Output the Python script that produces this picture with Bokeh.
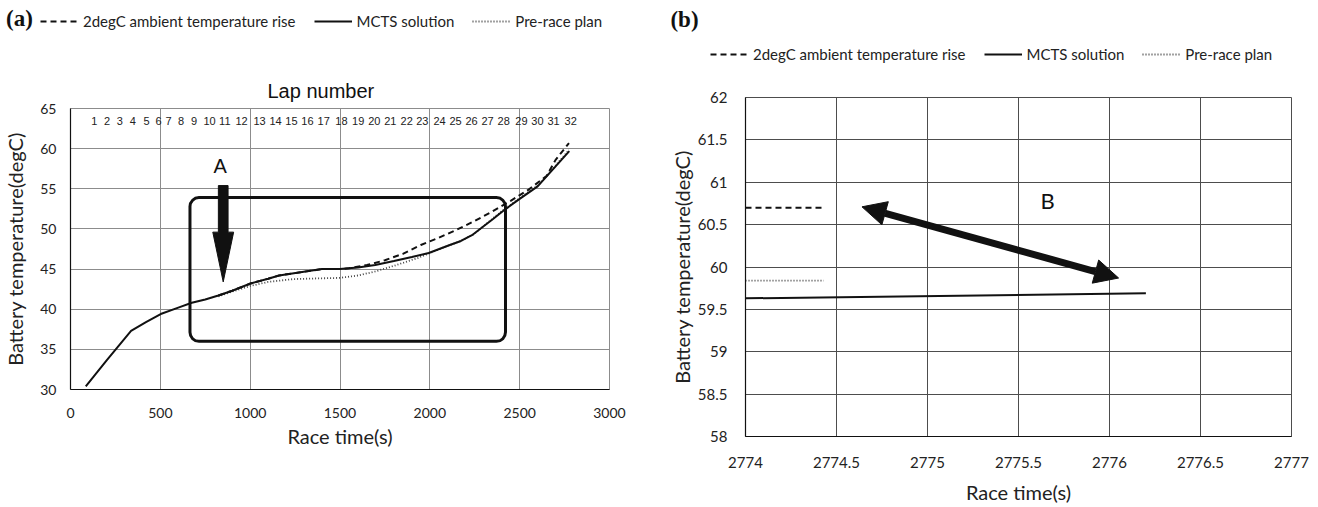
from bokeh.plotting import figure
from bokeh.layouts import row, column
from bokeh.models import (Range1d, FixedTicker, NumeralTickFormatter, Legend, LegendItem,
                          Label, BoxAnnotation, Arrow, NormalHead)
from bokeh.embed import file_html
from bokeh.resources import INLINE
from bokeh.core.properties import value

# ---------------- data: whole race ----------------
race_time_mcts = [85, 200, 337, 420, 502, 600, 675, 750, 823, 900, 1002, 1100, 1161, 1280,
                  1399, 1498, 1600, 1696, 1800, 1900, 1994, 2100, 2173, 2240, 2292, 2350,
                  2411, 2504, 2600, 2700, 2776.2]
temp_mcts = [30.4, 33.6, 37.3, 38.4, 39.4, 40.2, 40.8, 41.2, 41.7, 42.3, 43.2, 43.8, 44.2, 44.6,
             45.0, 45.0, 45.2, 45.5, 46.0, 46.5, 47.0, 47.9, 48.5, 49.3, 50.2, 51.2,
             52.3, 53.8, 55.3, 57.8, 59.69]

race_time_hot = [823, 900, 1002, 1100, 1161, 1280, 1399, 1498, 1550, 1650, 1750, 1850, 1950,
                 2050, 2150, 2250, 2350, 2450, 2550, 2650, 2700, 2774.4]
temp_hot = [41.7, 42.3, 43.2, 43.8, 44.2, 44.6, 45.0, 45.0, 45.1, 45.5, 46.1, 46.9, 48.0,
            48.9, 49.9, 51.0, 52.2, 53.5, 54.9, 56.6, 58.6, 60.7]

race_time_plan = [823, 900, 1002, 1100, 1240, 1400, 1498, 1600, 1696, 1800, 1935, 2000, 2100,
                  2173, 2240, 2292, 2350, 2411, 2504, 2600, 2700, 2774.4]
temp_plan = [41.6, 42.2, 42.9, 43.4, 43.75, 43.85, 43.9, 44.2, 44.7, 45.4, 46.4, 47.0, 47.9,
             48.5, 49.3, 50.2, 51.3, 52.4, 53.9, 55.4, 57.9, 59.84]

lap_numbers = [str(n) for n in range(1, 33)]
lap_label_time = [133, 204, 274, 347, 423, 490, 546, 615, 688, 774, 859, 952, 1052, 1141, 1230,
                  1319, 1409, 1508, 1601, 1691, 1780, 1871, 1958, 2054, 2143, 2232, 2321, 2411,
                  2510, 2599, 2689, 2784]

# ---------------- data: end of race (zoom) ----------------
zoom_time_mcts = [2774.0, 2776.2]
zoom_temp_mcts = [59.63, 59.69]
zoom_time_hot = [2774.0, 2774.42]
zoom_temp_hot = [60.70, 60.70]
zoom_time_plan = [2774.0, 2774.43]
zoom_temp_plan = [59.84, 59.84]

LEGEND_LABELS = ["2degC ambient temperature rise", "MCTS solution", "Pre-race plan"]

FONT = "Lato"
ARIAL = "Liberation Sans"
INK = "#111111"
TEXT = "#222222"

HOT_STYLE = dict(line_color=INK, line_width=2, line_dash="6 4")
MCTS_STYLE = dict(line_color=INK, line_width=2)
PLAN_STYLE = dict(line_color="#444444", line_width=1.8, line_dash="1 2")

HEAD_H = 70


def style_axes(p, grid_color, title_size="20px", tick_size="14px"):
    for ax in (p.xaxis[0], p.yaxis[0]):
        ax.major_tick_line_color = None
        ax.minor_tick_line_color = None
        ax.axis_line_color = INK
        ax.axis_line_width = 1.2
        ax.major_label_text_font = FONT
        ax.major_label_text_font_size = tick_size
        ax.major_label_text_color = TEXT
        ax.axis_label_text_font = FONT
        ax.axis_label_text_font_size = title_size
        ax.axis_label_text_font_style = "normal"
        ax.axis_label_text_color = TEXT
    p.xgrid.grid_line_color = grid_color
    p.ygrid.grid_line_color = grid_color
    p.outline_line_color = grid_color
    p.background_fill_color = "white"
    p.border_fill_color = "white"


# ================= header strip: panel tags and legends =================
head = figure(width=1318, height=HEAD_H, x_range=Range1d(0, 1318), y_range=Range1d(0, HEAD_H),
              min_border=0, output_backend="svg", toolbar_location=None)
head.axis.visible = False
head.grid.visible = False
head.outline_line_color = None
head.border_fill_color = "white"

# key renderers: styled like the data lines, kept outside the strip's visible range
key_hot = head.line([-20, -10], [-20, -20], **HOT_STYLE)
key_mcts = head.line([-20, -10], [-20, -20], **MCTS_STYLE)
key_plan = head.line([-20, -10], [-20, -20], **PLAN_STYLE)


def add_legend(loc):
    legend = Legend(
        items=[LegendItem(label=lab, renderers=[r])
               for lab, r in zip(LEGEND_LABELS, [key_hot, key_mcts, key_plan])],
        location=loc, orientation="horizontal",
        label_text_font=FONT, label_text_font_size="15px", label_text_color=TEXT,
        glyph_width=38, glyph_height=16, label_standoff=5, spacing=18,
        padding=0, margin=0, border_line_alpha=0, background_fill_alpha=0,
    )
    head.add_layout(legend)


add_legend((40, HEAD_H - 30))
add_legend((710, HEAD_H - 63))
for tag, tx, ty in (("(a)", 19, 18), ("(b)", 684, 19)):
    head.add_layout(Label(x=tx, y=HEAD_H - ty, text=tag, text_font="Liberation Serif",
                          text_font_style="bold", text_font_size="23px", text_align="center",
                          text_baseline="middle", text_color=INK))

# ================= (a) whole race =================
pa = figure(width=659, height=507 - HEAD_H, title="Lap number",
            x_range=Range1d(0, 3000), y_range=Range1d(30, 65),
            min_border_left=69, min_border_right=50, min_border_top=108 - HEAD_H,
            min_border_bottom=118, frame_align=False,
            output_backend="svg", toolbar_location=None)
style_axes(pa, "#8c8c8c")
pa.title.text_font = ARIAL
pa.title.text_font_size = "20px"
pa.title.text_font_style = "normal"
pa.title.text_color = INK
pa.title.align = "left"
pa.title.offset = 197
pa.title.standoff = 13

pa.xaxis.ticker = FixedTicker(ticks=[0, 500, 1000, 1500, 2000, 2500, 3000])
pa.yaxis.ticker = FixedTicker(ticks=[30, 35, 40, 45, 50, 55, 60, 65])
pa.xaxis.axis_label = "Race time(s)"
pa.yaxis.axis_label = "Battery temperature(degC)"
pa.xaxis.major_label_standoff = 12
pa.yaxis.major_label_standoff = 8
pa.xaxis.axis_label_standoff = 3
pa.yaxis.axis_label_standoff = 10

# lap numbers along the top band
pa.text(x=lap_label_time, y=63.5, text=lap_numbers, text_font=value(ARIAL),
        text_font_size="11px", text_align="center", text_baseline="middle",
        text_color=TEXT)

pa.line(race_time_plan, temp_plan, **PLAN_STYLE)
pa.line(race_time_hot, temp_hot, **HOT_STYLE)
pa.line(race_time_mcts, temp_mcts, **MCTS_STYLE)

# highlighted region
pa.add_layout(BoxAnnotation(left=665, right=2421, bottom=36.0, top=53.9,
                            fill_alpha=0, line_color=INK, line_alpha=1, line_width=3,
                            border_radius=9))

# arrow A pointing at the divergence
ax_c, shaft_half, head_half = 850, 27, 58
shaft_top, head_base, tip = 55.4, 49.6, 43.4
pa.patch([ax_c - shaft_half, ax_c + shaft_half, ax_c + shaft_half, ax_c + head_half, ax_c,
          ax_c - head_half, ax_c - shaft_half],
         [shaft_top, shaft_top, head_base, head_base, tip, head_base, head_base],
         fill_color=INK, line_color=INK)
pa.add_layout(Label(x=833, y=57.8, text="A", text_font=ARIAL, text_font_size="20px",
                    text_align="center", text_baseline="middle", text_color=INK))

# ================= (b) end of race =================
pb = figure(width=659, height=507 - HEAD_H,
            x_range=Range1d(2774, 2777), y_range=Range1d(58, 62),
            min_border_left=86, min_border_right=27, min_border_top=97 - HEAD_H,
            min_border_bottom=71, frame_align=False,
            output_backend="svg", toolbar_location=None)
style_axes(pb, "#4d4d4d", tick_size="15px")
pb.xaxis.ticker = FixedTicker(ticks=[2774, 2774.5, 2775, 2775.5, 2776, 2776.5, 2777])
pb.yaxis.ticker = FixedTicker(ticks=[58, 58.5, 59, 59.5, 60, 60.5, 61, 61.5, 62])
pb.xaxis.formatter = NumeralTickFormatter(format="0.[0]")
pb.yaxis.formatter = NumeralTickFormatter(format="0.[0]")
pb.xaxis.axis_label = "Race time(s)"
pb.yaxis.axis_label = "Battery temperature(degC)"
pb.xaxis.major_label_standoff = 14
pb.yaxis.major_label_standoff = 12
pb.xaxis.axis_label_standoff = 9
pb.yaxis.axis_label_standoff = 1

pb.line(zoom_time_hot, zoom_temp_hot, **HOT_STYLE)
pb.line(zoom_time_mcts, zoom_temp_mcts, **MCTS_STYLE)
pb.line(zoom_time_plan, zoom_temp_plan, **PLAN_STYLE)

pb.add_layout(Arrow(x_start=2774.64, y_start=60.71, x_end=2776.05, y_end=59.87,
                    line_color=INK, line_width=7,
                    start=NormalHead(size=24, fill_color=INK, line_color=INK),
                    end=NormalHead(size=24, fill_color=INK, line_color=INK)))
pb.add_layout(Label(x=2775.66, y=60.78, text="B", text_font=FONT, text_font_size="22px",
                    text_align="center", text_baseline="middle", text_color=INK))

layout = column(head, row(pa, pb))
open("out.html", "w").write(file_html(layout, INLINE))
